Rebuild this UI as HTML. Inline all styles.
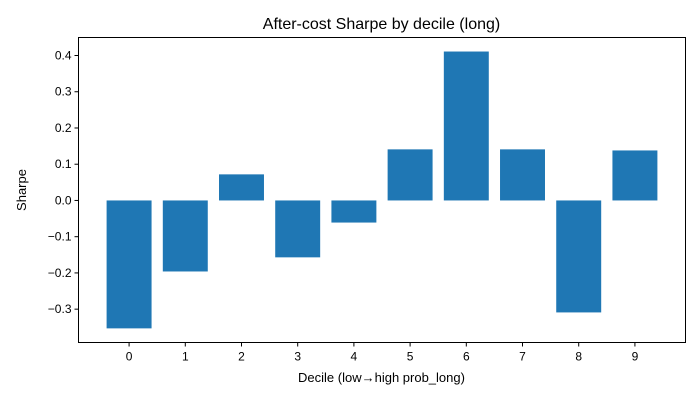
<!DOCTYPE html>
<html><head><meta charset="utf-8"><style>
body{margin:0;background:#fff;}
svg{display:block;font-family:"Liberation Sans","DejaVu Sans",sans-serif;}
</style></head><body>
<svg id="chart" width="700" height="400">
<rect width="700" height="400" fill="#fff"/>
<text x="381.5" y="29" text-anchor="middle" font-size="16">After-cost Sharpe by decile (long)</text>
<g id="bars"></g>
<g id="xticks"></g>
<g id="yticks"></g>
<rect x="78.5" y="37.5" width="607" height="305" fill="none" stroke="#000" stroke-width="1"/>
<text x="381.5" y="382" text-anchor="middle" font-size="13">Decile (low→high prob_long)</text>
<text transform="translate(26,190) rotate(-90)" text-anchor="middle" font-size="13">Sharpe</text>
</svg>
<script>
const categories=[0,1,2,3,4,5,6,7,8,9];
const sharpeValues=[-0.353,-0.196,0.072,-0.157,-0.061,0.141,0.411,0.141,-0.309,0.138];
const yTickValues=[-0.3,-0.2,-0.1,0.0,0.1,0.2,0.3,0.4];
const yTickLabels=["−0.3","−0.2","−0.1","0.0","0.1","0.2","0.3","0.4"];
const L=78.5,R=685.5,T=37.5,B=342.5;
const xMin=-0.9,xMax=categories.length-1+0.9,yMin=-0.392,yMax=0.4497;
const xs=v=>L+(v-xMin)/(xMax-xMin)*(R-L);
const ys=v=>B-(v-yMin)/(yMax-yMin)*(B-T);
const ns="http://www.w3.org/2000/svg";
const bars=document.getElementById('bars'),xt=document.getElementById('xticks'),yt=document.getElementById('yticks');
const bw=(xs(1)-xs(0))*0.8;
categories.forEach((c,i)=>{
  const v=sharpeValues[i];
  const r=document.createElementNS(ns,'rect');
  
  
  r.setAttribute('x',xs(i)-bw/2);r.setAttribute('width',bw);
  r.setAttribute('y',Math.min(ys(v),ys(0)));r.setAttribute('height',Math.abs(ys(v)-ys(0)));
  r.setAttribute('fill','#1f77b4');bars.appendChild(r);
  const l=document.createElementNS(ns,'line');
  
  
  l.setAttribute('x1',xs(i));l.setAttribute('x2',xs(i));l.setAttribute('y1',B);l.setAttribute('y2',B+4);l.setAttribute('stroke','#000');xt.appendChild(l);
  const t=document.createElementNS(ns,'text');
  
  
  t.setAttribute('x',xs(i));t.setAttribute('y',B+18);t.setAttribute('text-anchor','middle');t.setAttribute('font-size','12');t.textContent=c;xt.appendChild(t);
});
yTickValues.forEach((v,i)=>{
  const l=document.createElementNS(ns,'line');
  
  
  l.setAttribute('x1',L-4);l.setAttribute('x2',L);l.setAttribute('y1',ys(v));l.setAttribute('y2',ys(v));l.setAttribute('stroke','#000');yt.appendChild(l);
  const t=document.createElementNS(ns,'text');
  
  
  t.setAttribute('x',L-7);t.setAttribute('y',ys(v)+4);t.setAttribute('text-anchor','end');t.setAttribute('font-size','12');t.textContent=yTickLabels[i];yt.appendChild(t);
});
</script>
</body></html>
